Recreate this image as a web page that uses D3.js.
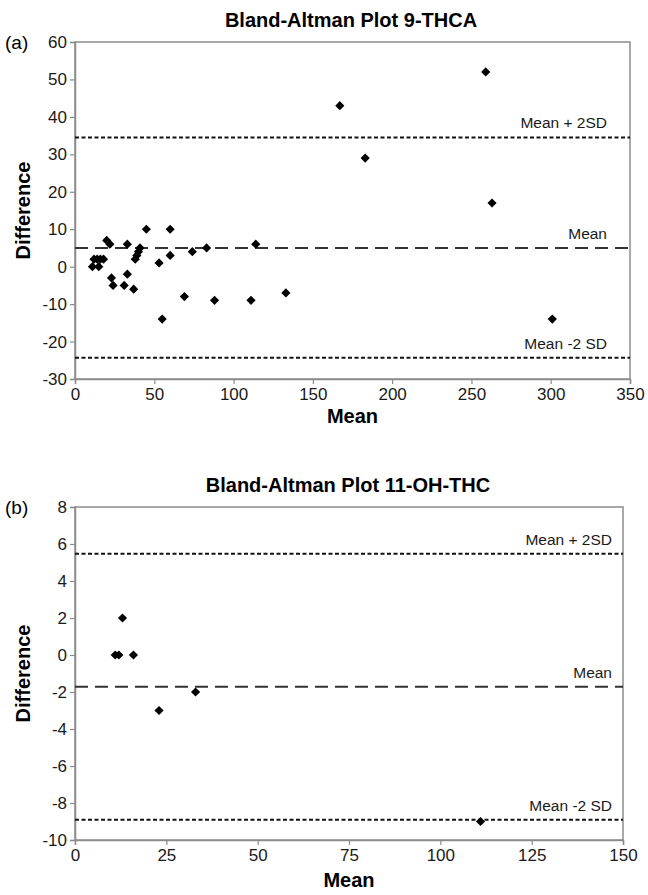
<!DOCTYPE html>
<html><head><meta charset="utf-8">
<script src="https://cdn.jsdelivr.net/npm/d3@7/dist/d3.min.js"></script>
<style>body{margin:0;background:#fff}svg{display:block}text{font-family:Arial,"Liberation Sans",sans-serif}</style>
</head><body><div id="chart"></div>
<script>
// ---- Data: panel (a) 9-THCA ----
const meanA = [11,12,14,15,16,18,20,22,23,24,31,33,33,37,38,39,40,41,45,53,55,60,60,69,74,83,88,111,114,133,167,183,259,263,301];
const diffA = [0,2,2,0,2,2,7,6,-3,-5,-5,-2,6,-6,2,3,4,5,10,1,-14,3,10,-8,4,5,-9,-9,6,-7,43,29,52,17,-14];
const refA = [34.5, 5.0, -24.3];
const xTicksA = [0,50,100,150,200,250,300,350];
const yTicksA = [60,50,40,30,20,10,0,-10,-20,-30];
// ---- Data: panel (b) 11-OH-THC ----
const meanB = [11,12,13,16,23,33,111];
const diffB = [0,0,2,0,-3,-2,-9];
const refB = [5.47, -1.71, -8.9];
const xTicksB = [0,25,50,75,100,125,150];
const yTicksB = [8,6,4,2,0,-2,-4,-6,-8,-10];
const refLabels = ["Mean + 2SD","Mean","Mean -2 SD"];

const svg = d3.select("#chart").append("svg").attr("width",648).attr("height",895);

function panel(o){
  const g = svg.append("g");
  const x = d3.scaleLinear().domain([o.xTicks[0], o.xTicks[o.xTicks.length-1]]).range([o.left,o.right]);
  const y = d3.scaleLinear().domain([o.yTicks[o.yTicks.length-1], o.yTicks[0]]).range([o.bottom,o.top]);
  g.append("rect").attr("x",o.left).attr("y",o.top).attr("width",o.right-o.left).attr("height",o.bottom-o.top)
    .attr("fill","none").attr("stroke","#8c8c8c").attr("stroke-width",1.5);
  const fmt = d => String(d);
  const ya = g.append("g").attr("transform",`translate(${o.left},0)`)
    .call(d3.axisLeft(y).tickValues(o.yTicks).tickSize(5).tickPadding(3).tickFormat(fmt));
  const xa = g.append("g").attr("transform",`translate(0,${o.bottom})`)
    .call(d3.axisBottom(x).tickValues(o.xTicks).tickSize(5).tickPadding(2).tickFormat(fmt));
  [ya,xa].forEach(a=>{
    a.select(".domain").attr("stroke","#8c8c8c").attr("stroke-width",1.5);
    a.selectAll(".tick line").attr("stroke","#8c8c8c").attr("stroke-width",1.2);
    a.selectAll(".tick text").attr("font-size",17).attr("fill","#1a1a1a");
  });
  xa.selectAll(".tick text").attr("dy","0.85em");
  const dashes = ["4,2.5","13,7","4,2.5"];
  o.refs.forEach((v,i)=>{
    g.append("line").attr("x1",o.left).attr("x2",o.right).attr("y1",y(v)).attr("y2",y(v))
      .attr("stroke", i===1?"#333":"#111").attr("stroke-width",2).attr("stroke-dasharray",dashes[i]);
    g.append("text").attr("x",o.labelX).attr("y",y(v)-9).attr("text-anchor","end")
      .attr("font-size",15.5).attr("fill","#1a1a1a").text(refLabels[i]);
  });
  const sym = d3.symbol().type(d3.symbolSquare).size(42);
  g.selectAll("path.pt").data(o.xs).join("path").attr("class","pt")
    .attr("d",sym).attr("fill","#000")
    .attr("transform",(d,i)=>`translate(${x(d)},${y(o.ys[i])}) rotate(45)`);
  g.append("text").attr("x",o.titleX).attr("y",o.top-15).attr("text-anchor","middle")
    .attr("font-size",20).attr("font-weight","bold").text(o.title);
  g.append("text").attr("x",5).attr("y",o.top+7).attr("font-size",19).text(o.tag);
  g.append("text").attr("transform",`translate(30,${(o.top+o.bottom)/2}) rotate(-90)`)
    .attr("text-anchor","middle").attr("font-size",20).attr("font-weight","bold").text("Difference");
  g.append("text").attr("x",(o.left+o.right)/2).attr("y",o.bottom+o.xlabDy).attr("text-anchor","middle")
    .attr("font-size",20).attr("font-weight","bold").text("Mean");
}

panel({xs:meanA, ys:diffA, refs:refA, xTicks:xTicksA, yTicks:yTicksA, left:75, right:630, top:42, bottom:379,
  labelX:607, titleX:351, title:"Bland-Altman Plot 9-THCA", tag:"(a)", xlabDy:44});
panel({xs:meanB, ys:diffB, refs:refB, xTicks:xTicksB, yTicks:yTicksB, left:75, right:623, top:507, bottom:840,
  labelX:612, titleX:348, title:"Bland-Altman Plot 11-OH-THC", tag:"(b)", xlabDy:47});
</script></body></html>
